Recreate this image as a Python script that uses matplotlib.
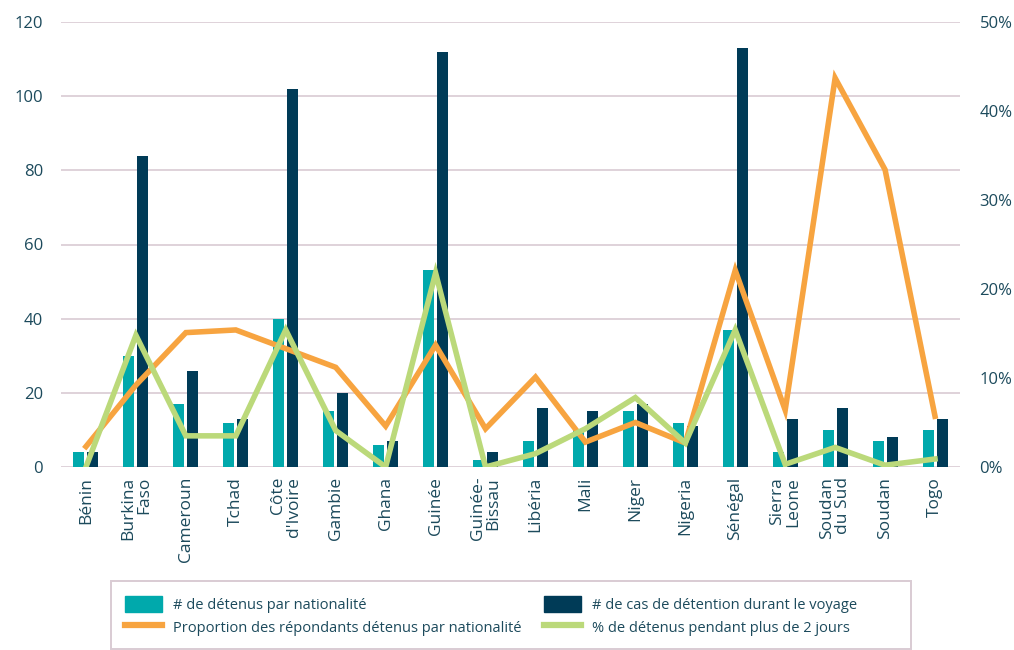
import numpy as np
import matplotlib.pyplot as plt
from matplotlib.patches import Patch, Rectangle
from matplotlib.lines import Line2D
from matplotlib.ticker import FuncFormatter

plt.rcParams['font.family'] = ['Open Sans', 'DejaVu Sans']

# Données par nationalité
pays = ['Bénin', 'Burkina\nFaso', 'Cameroun', 'Tchad', 'Côte\nd\'Ivoire', 'Gambie',
        'Ghana', 'Guinée', 'Guinée-\nBissau', 'Libéria', 'Mali', 'Niger', 'Nigeria',
        'Sénégal', 'Sierra\nLeone', 'Soudan\ndu Sud', 'Soudan', 'Togo']
detenus = [4, 30, 17, 12, 40, 15, 6, 53, 2, 7, 10, 15, 12, 37, 4, 10, 7, 10]
cas_detention = [4, 84, 26, 13, 102, 20, 7, 112, 4, 16, 15, 17, 11, 113, 13, 16, 8, 13]
proportion = [2.3, 9.2, 15.1, 15.4, 13.3, 11.2, 4.6, 13.7, 4.3, 10.1, 2.8, 5.0, 2.7,
              22.1, 6.4, 43.7, 33.4, 5.7]
plus_2_jours = [0.0, 14.8, 3.5, 3.5, 15.4, 4.1, 0.0, 21.8, 0.0, 1.5, 4.3, 7.8, 2.7,
                15.4, 0.3, 2.2, 0.2, 0.9]

c_teal = '#00A9AC'
c_dark = '#003B57'
c_orange = '#F7A440'
c_green = '#BBD97A'
c_text = '#1C4A5C'
c_grid = '#D9CBD3'

fig = plt.figure(figsize=(10.14, 6.5), dpi=100)
ax = fig.add_axes([61 / 1014, 1 - 467 / 650, 899 / 1014, 445 / 650])
ax2 = ax.twinx()

x = np.arange(len(pays))
w = 0.22
ax.bar(x - 0.14, detenus, w, color=c_teal, zorder=2)
ax.bar(x + 0.14, cas_detention, w, color=c_dark, zorder=2)

ax.set_xlim(-0.5, len(pays) - 0.5)
ax.set_ylim(0, 120)
ax.set_yticks(range(0, 121, 20))
ax.yaxis.grid(True, color=c_grid, linewidth=1.2, zorder=0)
ax.set_axisbelow(True)

ax2.plot(x, proportion, color=c_orange, linewidth=4, solid_joinstyle='miter', zorder=3)
ax2.plot(x, plus_2_jours, color=c_green, linewidth=4, solid_joinstyle='miter', zorder=4)
ax2.set_ylim(0, 50)
ax2.set_yticks(range(0, 51, 10))
ax2.yaxis.set_major_formatter(FuncFormatter(lambda v, _: f'{v:.0f}%'))

for a in (ax, ax2):
    for s in a.spines.values():
        s.set_visible(False)
    a.tick_params(length=0, labelsize=12, labelcolor=c_text)
ax.tick_params(axis='y', pad=13)
ax2.tick_params(axis='y', pad=14)

ax.set_xticks(x)
ax.set_xticklabels([])
for xi, nom in zip(x, pays):
    ax.text(xi, -0.022, nom, transform=ax.get_xaxis_transform(), rotation=90,
            ha='center', va='top', multialignment='right', fontsize=12.5,
            color=c_text, linespacing=1.0)

# Légende encadrée
fig.add_artist(Rectangle((111 / 1014, 1 / 650), 800 / 1014, 68 / 650,
                         transform=fig.transFigure, fill=False, edgecolor=c_grid,
                         linewidth=1.4))
handles = [Patch(color=c_teal), Line2D([], [], color=c_orange, linewidth=4.5),
           Patch(color=c_dark), Line2D([], [], color=c_green, linewidth=4.5)]
labels = ['# de détenus par nationalité',
          'Proportion des répondants détenus par nationalité',
          '# de cas de détention durant le voyage',
          '% de détenus pendant plus de 2 jours']
leg = fig.legend(handles, labels, ncol=2, loc='upper left',
                 bbox_to_anchor=(125 / 1014, 1 - 596 / 650), frameon=False,
                 fontsize=10.5, handlelength=2.55, handleheight=1.3, handletextpad=0.75,
                 columnspacing=1.5, labelspacing=0.4, borderaxespad=0, borderpad=0)
for t in leg.get_texts():
    t.set_color(c_text)

fig.savefig('out.png', dpi=100)
